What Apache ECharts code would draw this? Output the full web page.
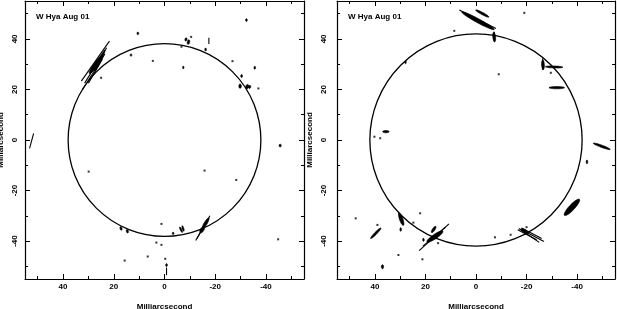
<!DOCTYPE html>
<html><head><meta charset="utf-8">
<script src="https://cdn.jsdelivr.net/npm/echarts@6/dist/echarts.min.js"></script>
<style>html,body{margin:0;padding:0;background:#fff}#c{width:617px;height:309px}</style>
</head><body><div id="c"></div>
<script>
// ---- data (milliarcseconds) ----
const panelTitles = ['W Hya Aug 01', 'W Hya Aug 01'];
const axisName = 'Milliarcsecond';
const majorTicks = [-40, -20, 0, 20, 40];
const minorTicks = [-50, -30, -10, 10, 30, 50];
const circleRadii = [38, 42];

// streaks: [x1, y1, x2, y2]
const leftStreaks = [
  [32.8, 23.3, 21.7, 39.1], [32.3, 20.0, 23.5, 34.0], [31.5, 22.5, 22.8, 36.5],
  [30.0, 22.5, 24.5, 32.0], [53.2, -3.3, 51.6, 2.6], [-12.3, -39.8, -17.9, -30.0],
  [-12.8, -39.0, -16.5, -32.5], [-17.5, 38.0, -17.5, 40.5], [-0.8, -50.5, -0.8, -53.5]
];
// blobs: [x1, y1, x2, y2, halfWidth]
const leftBlobs = [
  [29.5, 26.5, 24.5, 33.5, 0.8], [27.5, 27.5, 23.5, 35.5, 0.5],
  [-15.0, -35.0, -17.4, -31.0, 0.6], [-14.2, -36.5, -15.5, -34.5, 0.7],
  [17.3, -34.4, 17.0, -35.6, 0.4], [14.8, -35.5, 14.5, -36.7, 0.4],
  [-8.3, 39.3, -8.6, 40.3, 0.4], [-9.3, 38.0, -9.6, 39.5, 0.5],
  [-29.8, 20.6, -29.8, 22.0, 0.5], [-32.5, 20.5, -32.8, 21.8, 0.6],
  [-33.5, 20.5, -33.7, 21.5, 0.4], [-45.6, -2.6, -45.6, -1.8, 0.45],
  [-30.4, 24.8, -30.4, 25.8, 0.35], [-32.3, 47.0, -32.3, 47.9, 0.35],
  [10.5, 41.8, 10.5, 42.6, 0.35], [-16.2, 35.3, -16.2, 36.3, 0.3],
  [-35.6, 28.1, -35.6, 29.1, 0.3], [-7.0, -34.0, -7.6, -36.0, 0.3],
  [-6.0, -34.5, -7.0, -36.5, 0.25], [-3.4, -36.6, -3.4, -37.3, 0.35],
  [-0.8, -49.0, -0.8, -50.0, 0.35], [13.2, 33.2, 13.2, 34.0, 0.3],
  [-7.4, 28.3, -7.4, 29.1, 0.3]
];
// dots: [x, y]
const leftDots = [
  [4.6, 31.3], [25, 24.6], [-6.7, 36.9], [-26.8, 31.2], [-37, 20.4], [-10.5, 40.8],
  [29.9, -12.5], [-15.8, -12.1], [-28.3, -15.8], [1.2, -33.2], [-44.8, -39.3],
  [3.2, -40.6], [1.2, -41.5], [15.7, -47.7], [6.6, -46.1], [-0.3, -47.0]
];

const rightStreaks = [
  [-17.7, -35.3, -26.9, -40.2], [-17.0, -35.0, -25.0, -40.5], [-18.0, -34.8, -26.0, -39.0],
  [-16.5, -35.5, -24.0, -39.5], [22.5, -43.8, 10.7, -33.2], [21.0, -42.0, 12.0, -34.5],
  [6.6, 51.4, -7.9, 44.1], [-7.2, 42.8, -7.2, 38.9], [-26.4, 32.3, -26.4, 27.7]
];
const rightBlobs = [
  [5.5, 50.6, -7.0, 43.8, 0.8], [0.0, 51.4, -5.0, 48.7, 0.45],
  [-7.0, 42.5, -7.4, 39.0, 0.55], [-26.4, 31.5, -26.6, 28.0, 0.55],
  [-27.5, 29.0, -34.3, 28.8, 0.4], [-29.0, 20.7, -34.9, 20.7, 0.45],
  [34.5, 3.3, 36.8, 3.3, 0.45], [-46.5, -1.3, -53.0, -3.7, 0.45],
  [-35.2, -29.6, -40.7, -23.7, 1.1], [41.6, -38.9, 37.7, -34.9, 0.45],
  [30.4, -29.0, 28.8, -33.6, 0.7], [29.8, -34.8, 29.8, -36.0, 0.3],
  [19.2, -40.2, 13.3, -36.2, 0.9], [17.5, -36.5, 16.0, -34.3, 0.5],
  [20.8, -39.0, 20.8, -40.0, 0.25], [37.0, -49.5, 37.0, -50.8, 0.45],
  [27.9, 30.3, 27.9, 31.3, 0.3], [-18.0, -35.3, -20.5, -36.8, 0.6],
  [-43.9, -8.0, -43.9, -9.3, 0.25]
];
const rightDots = [
  [-19.1, 50.3], [8.6, 43.2], [-9, 26], [40.2, 1.3], [37.9, 0.7], [39, -33.6],
  [47.6, -31], [22.1, -29], [24.8, -32.7], [30.7, -45.5], [21.2, -47.2],
  [-7.5, -38.5], [-13.7, -37.5], [-20, -34.5], [15, -40.8], [-29.6, 26.6]
];

const panels = [
  {streaks: leftStreaks, blobs: leftBlobs, dots: leftDots, r: circleRadii[0]},
  {streaks: rightStreaks, blobs: rightBlobs, dots: rightDots, r: circleRadii[1]}
];

// ---- layout ----
const grids = [
  {left: 25, top: 1, width: 279, height: 278, outerBoundsMode: 'none', containLabel: false},
  {left: 337, top: 1, width: 278, height: 278, outerBoundsMode: 'none', containLabel: false}
];
const FONT = 'Liberation Sans';
const txt = {fontFamily: FONT, fontSize: 8, fontWeight: 'bold', color: '#000'};
const frameLine = {show: true, onZero: false, lineStyle: {color: '#000', width: 1.2}};
const noLine = {show: false, onZero: false};

const xAxes = [], yAxes = [], series = [];
grids.forEach((g, gi) => {
  const base = {gridIndex: gi, type: 'value', min: -55, max: 55, splitLine: {show: false}};
  const major = {show: true, inside: true, length: 5, customValues: majorTicks, lineStyle: {color: '#000'}};
  const minor = {show: true, inside: true, length: 3, customValues: minorTicks, lineStyle: {color: '#000'}};
  // x axes
  xAxes.push(Object.assign({}, base, {position: 'bottom', inverse: true,
    axisLine: frameLine, axisTick: major,
    axisLabel: Object.assign({customValues: majorTicks, margin: 4}, txt),
    name: axisName, nameLocation: 'middle', nameGap: 24, nameTextStyle: txt}));
  xAxes.push(Object.assign({}, base, {position: 'top', inverse: true,
    axisLine: frameLine, axisTick: major, axisLabel: {show: false}}));
  xAxes.push(Object.assign({}, base, {position: 'bottom', inverse: true,
    axisLine: noLine, axisTick: minor, axisLabel: {show: false}}));
  xAxes.push(Object.assign({}, base, {position: 'top', inverse: true,
    axisLine: noLine, axisTick: minor, axisLabel: {show: false}}));
  // y axes
  yAxes.push(Object.assign({}, base, {position: 'left',
    axisLine: frameLine, axisTick: major,
    axisLabel: Object.assign({customValues: majorTicks, margin: gi === 0 ? 6 : 9, rotate: 90}, txt),
    name: axisName, nameLocation: 'middle', nameGap: gi === 0 ? 20 : 23, nameTextStyle: txt}));
  yAxes.push(Object.assign({}, base, {position: 'right',
    axisLine: frameLine, axisTick: major, axisLabel: {show: false}}));
  yAxes.push(Object.assign({}, base, {position: 'left',
    axisLine: noLine, axisTick: minor, axisLabel: {show: false}}));
  yAxes.push(Object.assign({}, base, {position: 'right',
    axisLine: noLine, axisTick: minor, axisLabel: {show: false}}));

  const p = panels[gi];
  const xi = gi * 4, yi = gi * 4;
  // circle
  series.push({type: 'custom', xAxisIndex: xi, yAxisIndex: yi, clip: true, silent: true,
    data: [[0, 0, p.r]],
    renderItem: (params, api) => {
      const c = api.coord([api.value(0), api.value(1)]);
      const rr = api.size([api.value(2), 0])[0];
      return {type: 'circle', shape: {cx: c[0], cy: c[1], r: rr},
        style: {fill: null, stroke: '#000', lineWidth: 1.3}};
    }});
  // streaks
  series.push({type: 'custom', xAxisIndex: xi, yAxisIndex: yi, clip: true, silent: true,
    data: p.streaks,
    renderItem: (params, api) => {
      const a = api.coord([api.value(0), api.value(1)]);
      const b = api.coord([api.value(2), api.value(3)]);
      return {type: 'line', shape: {x1: a[0], y1: a[1], x2: b[0], y2: b[1]},
        style: {stroke: '#000', lineWidth: 1.1}};
    }});
  // blobs
  series.push({type: 'custom', xAxisIndex: xi, yAxisIndex: yi, clip: true, silent: true,
    data: p.blobs,
    renderItem: (params, api) => {
      const a = api.coord([api.value(0), api.value(1)]);
      const b = api.coord([api.value(2), api.value(3)]);
      const hw = Math.max(0.8, api.size([api.value(4), 0])[0]);
      const cx = (a[0] + b[0]) / 2, cy = (a[1] + b[1]) / 2;
      const dx = b[0] - a[0], dy = b[1] - a[1];
      const len = Math.sqrt(dx * dx + dy * dy);
      const ang = Math.atan2(dy, dx);
      const sa = Math.max(hw, len / 2 + hw * 0.3);
      const pts = [];
      for (let k = 0; k < 20; k++) {
        const t = k / 20 * Math.PI * 2;
        const ex = sa * Math.cos(t), ey = hw * Math.sin(t);
        pts.push([cx + ex * Math.cos(ang) - ey * Math.sin(ang), cy + ex * Math.sin(ang) + ey * Math.cos(ang)]);
      }
      return {type: 'polygon', shape: {points: pts}, style: {fill: '#000', stroke: '#000', lineWidth: 0.6}};
    }});
  // dots
  series.push({type: 'scatter', xAxisIndex: xi, yAxisIndex: yi, silent: true,
    symbol: 'rect', symbolSize: 2, itemStyle: {color: '#000'}, data: p.dots});
});

const chart = echarts.init(document.getElementById('c'), null, {renderer: 'canvas'});
chart.setOption({
  animation: false,
  backgroundColor: '#fff',
  title: [
    {text: panelTitles[0], left: 31, top: 8, textStyle: txt},
    {text: panelTitles[1], left: 343, top: 8, textStyle: txt}
  ],
  grid: grids,
  xAxis: xAxes,
  yAxis: yAxes,
  series: series
});
</script></body></html>
